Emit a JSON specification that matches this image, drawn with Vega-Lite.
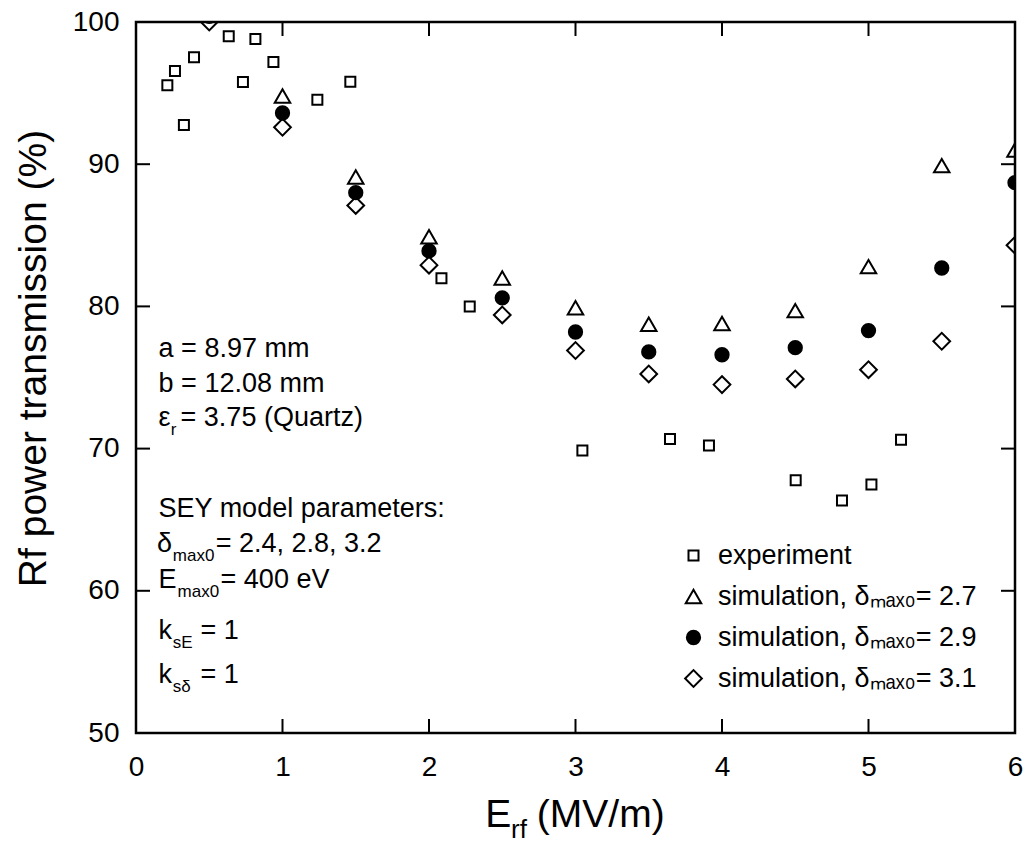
{
  "$schema": "https://vega.github.io/schema/vega-lite/v6.json",
  "width": 879,
  "height": 711,
  "autosize": {"type": "none"},
  "padding": {"left": 136, "top": 22, "right": 8, "bottom": 110},
  "background": "white",
  "config": {
    "view": {"stroke": "black", "strokeWidth": 2.5},
    "font": "Liberation Sans",
    "axis": {
      "labelFont": "Liberation Sans",
      "labelFontSize": 28,
      "labelColor": "black",
      "labelFlush": false,
      "labelOverlap": false,
      "titleFont": "Liberation Sans",
      "titleFontWeight": "normal",
      "titleColor": "black",
      "grid": false
    }
  },
  "datasets": {
    "points": [
      {"series": "experiment", "E": 0.214, "T": 95.55},
      {"series": "experiment", "E": 0.266, "T": 96.55},
      {"series": "experiment", "E": 0.327, "T": 92.76},
      {"series": "experiment", "E": 0.396, "T": 97.52},
      {"series": "experiment", "E": 0.633, "T": 98.99},
      {"series": "experiment", "E": 0.730, "T": 95.78},
      {"series": "experiment", "E": 0.815, "T": 98.80},
      {"series": "experiment", "E": 0.938, "T": 97.19},
      {"series": "experiment", "E": 1.238, "T": 94.54},
      {"series": "experiment", "E": 1.463, "T": 95.80},
      {"series": "experiment", "E": 2.085, "T": 81.98},
      {"series": "experiment", "E": 2.278, "T": 79.99},
      {"series": "experiment", "E": 3.047, "T": 69.87},
      {"series": "experiment", "E": 3.645, "T": 70.68},
      {"series": "experiment", "E": 3.911, "T": 70.22},
      {"series": "experiment", "E": 4.503, "T": 67.77},
      {"series": "experiment", "E": 4.819, "T": 66.35},
      {"series": "experiment", "E": 5.020, "T": 67.47},
      {"series": "experiment", "E": 5.222, "T": 70.63},
      {"series": "simulation, δₘₐₓ₀= 2.7", "E": 0.5, "T": 101.2},
      {"series": "simulation, δₘₐₓ₀= 2.7", "E": 1.0, "T": 94.8},
      {"series": "simulation, δₘₐₓ₀= 2.7", "E": 1.5, "T": 89.1},
      {"series": "simulation, δₘₐₓ₀= 2.7", "E": 2.0, "T": 84.9},
      {"series": "simulation, δₘₐₓ₀= 2.7", "E": 2.5, "T": 82.0},
      {"series": "simulation, δₘₐₓ₀= 2.7", "E": 3.0, "T": 79.9},
      {"series": "simulation, δₘₐₓ₀= 2.7", "E": 3.5, "T": 78.75},
      {"series": "simulation, δₘₐₓ₀= 2.7", "E": 4.0, "T": 78.8},
      {"series": "simulation, δₘₐₓ₀= 2.7", "E": 4.5, "T": 79.7},
      {"series": "simulation, δₘₐₓ₀= 2.7", "E": 5.0, "T": 82.8},
      {"series": "simulation, δₘₐₓ₀= 2.7", "E": 5.5, "T": 89.9},
      {"series": "simulation, δₘₐₓ₀= 2.7", "E": 6.0, "T": 91.0},
      {"series": "simulation, δₘₐₓ₀= 2.9", "E": 0.5, "T": 100.4},
      {"series": "simulation, δₘₐₓ₀= 2.9", "E": 1.0, "T": 93.6},
      {"series": "simulation, δₘₐₓ₀= 2.9", "E": 1.5, "T": 88.0},
      {"series": "simulation, δₘₐₓ₀= 2.9", "E": 2.0, "T": 83.9},
      {"series": "simulation, δₘₐₓ₀= 2.9", "E": 2.5, "T": 80.6},
      {"series": "simulation, δₘₐₓ₀= 2.9", "E": 3.0, "T": 78.2},
      {"series": "simulation, δₘₐₓ₀= 2.9", "E": 3.5, "T": 76.8},
      {"series": "simulation, δₘₐₓ₀= 2.9", "E": 4.0, "T": 76.6},
      {"series": "simulation, δₘₐₓ₀= 2.9", "E": 4.5, "T": 77.1},
      {"series": "simulation, δₘₐₓ₀= 2.9", "E": 5.0, "T": 78.3},
      {"series": "simulation, δₘₐₓ₀= 2.9", "E": 5.5, "T": 82.7},
      {"series": "simulation, δₘₐₓ₀= 2.9", "E": 6.0, "T": 88.7},
      {"series": "simulation, δₘₐₓ₀= 3.1", "E": 0.5, "T": 100.0},
      {"series": "simulation, δₘₐₓ₀= 3.1", "E": 1.0, "T": 92.6},
      {"series": "simulation, δₘₐₓ₀= 3.1", "E": 1.5, "T": 87.1},
      {"series": "simulation, δₘₐₓ₀= 3.1", "E": 2.0, "T": 82.9},
      {"series": "simulation, δₘₐₓ₀= 3.1", "E": 2.5, "T": 79.4},
      {"series": "simulation, δₘₐₓ₀= 3.1", "E": 3.0, "T": 76.9},
      {"series": "simulation, δₘₐₓ₀= 3.1", "E": 3.5, "T": 75.25},
      {"series": "simulation, δₘₐₓ₀= 3.1", "E": 4.0, "T": 74.5},
      {"series": "simulation, δₘₐₓ₀= 3.1", "E": 4.5, "T": 74.9},
      {"series": "simulation, δₘₐₓ₀= 3.1", "E": 5.0, "T": 75.55},
      {"series": "simulation, δₘₐₓ₀= 3.1", "E": 5.5, "T": 77.55},
      {"series": "simulation, δₘₐₓ₀= 3.1", "E": 6.0, "T": 84.3}
    ],
    "notes": [
      {"t": "a = 8.97 mm", "x": 0.1542, "y": 76.42, "k": "main"},
      {"t": "b = 12.08 mm", "x": 0.1542, "y": 74.0, "k": "main"},
      {"t": "ε", "x": 0.1542, "y": 71.59, "k": "main"},
      {"t": "r", "x": 0.237, "y": 71.59, "k": "sub"},
      {"t": "= 3.75 (Quartz)", "x": 0.3043, "y": 71.59, "k": "main"},
      {"t": "SEY model parameters:", "x": 0.1542, "y": 65.21, "k": "main"},
      {"t": "δ", "x": 0.1433, "y": 62.75, "k": "main"},
      {"t": "max0", "x": 0.251, "y": 62.75, "k": "sub"},
      {"t": "= 2.4, 2.8, 3.2", "x": 0.5443, "y": 62.75, "k": "main"},
      {"t": "E", "x": 0.1542, "y": 60.18, "k": "main"},
      {"t": "max0", "x": 0.284, "y": 60.18, "k": "sub"},
      {"t": "= 400 eV", "x": 0.5774, "y": 60.18, "k": "main"},
      {"t": "k", "x": 0.1542, "y": 56.58, "k": "main"},
      {"t": "sE", "x": 0.2507, "y": 56.58, "k": "sub"},
      {"t": "= 1", "x": 0.44, "y": 56.58, "k": "main"},
      {"t": "k", "x": 0.1542, "y": 53.51, "k": "main"},
      {"t": "sδ", "x": 0.2507, "y": 53.51, "k": "sub"},
      {"t": "= 1", "x": 0.44, "y": 53.51, "k": "main"}
    ],
    "xtitle": [
      {"t": "E", "x": 2.3834, "y": 43.41, "k": "main"},
      {"t": "rf", "x": 2.56, "y": 43.41, "k": "sub"},
      {"t": "(MV/m)", "x": 2.736, "y": 43.41, "k": "main"}
    ],
    "xticks": [
      {"v": 1, "edge": 50}, {"v": 2, "edge": 50}, {"v": 3, "edge": 50}, {"v": 4, "edge": 50}, {"v": 5, "edge": 50},
      {"v": 1, "edge": 100}, {"v": 2, "edge": 100}, {"v": 3, "edge": 100}, {"v": 4, "edge": 100}, {"v": 5, "edge": 100}
    ],
    "yticks": [
      {"v": 60, "edge": 0}, {"v": 70, "edge": 0}, {"v": 80, "edge": 0}, {"v": 90, "edge": 0},
      {"v": 60, "edge": 6}, {"v": 70, "edge": 6}, {"v": 80, "edge": 6}, {"v": 90, "edge": 6}
    ]
  },
  "layer": [
    {
      "data": {"name": "points"},
      "mark": {"type": "point", "filled": true, "stroke": "black", "strokeWidth": 2, "opacity": 1, "clip": true},
      "encoding": {
        "x": {
          "field": "E", "type": "quantitative",
          "scale": {"domain": [0, 6], "nice": false, "zero": false},
          "axis": {"orient": "bottom", "values": [0, 1, 2, 3, 4, 5, 6], "ticks": false, "tickSize": 0, "domain": false, "labelPadding": 20, "title": null, "format": "d"}
        },
        "y": {
          "field": "T", "type": "quantitative",
          "scale": {"domain": [50, 100], "nice": false, "zero": false},
          "axis": {"orient": "left", "values": [50, 60, 70, 80, 90, 100], "ticks": false, "tickSize": 0, "domain": false, "labelPadding": 17, "format": "d",
                   "title": "Rf power transmission (%)", "titleFontSize": 39, "titleX": -91, "titleY": 336, "titleAngle": 270, "titleBaseline": "alphabetic", "titleAlign": "center"}
        },
        "shape": {
          "field": "series", "type": "nominal",
          "scale": {"domain": ["experiment", "simulation, δₘₐₓ₀= 2.7", "simulation, δₘₐₓ₀= 2.9", "simulation, δₘₐₓ₀= 3.1"], "range": ["square", "triangle-up", "circle", "diamond"]},
          "legend": {"title": null, "orient": "none", "legendX": 544, "legendY": 520, "labelFontSize": 27, "labelFont": "Liberation Sans", "labelColor": "black", "rowPadding": 13, "labelOffset": 11, "symbolStrokeColor": "black", "symbolStrokeWidth": 2, "padding": 0, "labelLimit": 500}
        },
        "fill": {
          "field": "series", "type": "nominal",
          "scale": {"domain": ["experiment", "simulation, δₘₐₓ₀= 2.7", "simulation, δₘₐₓ₀= 2.9", "simulation, δₘₐₓ₀= 3.1"], "range": ["transparent", "transparent", "black", "transparent"]}
        },
        "size": {
          "field": "series", "type": "nominal",
          "scale": {"type": "ordinal", "domain": ["experiment", "simulation, δₘₐₓ₀= 2.7", "simulation, δₘₐₓ₀= 2.9", "simulation, δₘₐₓ₀= 3.1"], "range": [100, 240, 177, 280]}
        }
      }
    },
    {
      "data": {"name": "xticks"},
      "mark": {"type": "tick", "orient": "vertical", "size": 28, "thickness": 2, "color": "black", "opacity": 1, "clip": true},
      "encoding": {
        "x": {"field": "v", "type": "quantitative", "scale": {"domain": [0, 6], "nice": false, "zero": false},
              "axis": {"orient": "bottom", "values": [0, 1, 2, 3, 4, 5, 6], "ticks": false, "tickSize": 0, "domain": false, "labelPadding": 20, "title": null, "format": "d"}},
        "y": {"field": "edge", "type": "quantitative", "scale": {"domain": [50, 100], "nice": false, "zero": false},
              "axis": {"orient": "left", "values": [50, 60, 70, 80, 90, 100], "ticks": false, "tickSize": 0, "domain": false, "labelPadding": 17, "format": "d",
                       "title": "Rf power transmission (%)", "titleFontSize": 39, "titleX": -91, "titleY": 336, "titleAngle": 270, "titleBaseline": "alphabetic", "titleAlign": "center"}}
      }
    },
    {
      "data": {"name": "yticks"},
      "mark": {"type": "tick", "orient": "horizontal", "size": 28, "thickness": 2, "color": "black", "opacity": 1, "clip": true},
      "encoding": {
        "x": {"field": "edge", "type": "quantitative", "scale": {"domain": [0, 6], "nice": false, "zero": false},
              "axis": {"orient": "bottom", "values": [0, 1, 2, 3, 4, 5, 6], "ticks": false, "tickSize": 0, "domain": false, "labelPadding": 20, "title": null, "format": "d"}},
        "y": {"field": "v", "type": "quantitative", "scale": {"domain": [50, 100], "nice": false, "zero": false},
              "axis": {"orient": "left", "values": [50, 60, 70, 80, 90, 100], "ticks": false, "tickSize": 0, "domain": false, "labelPadding": 17, "format": "d",
                       "title": "Rf power transmission (%)", "titleFontSize": 39, "titleX": -91, "titleY": 336, "titleAngle": 270, "titleBaseline": "alphabetic", "titleAlign": "center"}}
      }
    },
    {
      "data": {"name": "notes"},
      "transform": [{"filter": "datum.k === 'main'"}],
      "mark": {"type": "text", "align": "left", "baseline": "alphabetic", "fontSize": 27, "font": "Liberation Sans", "color": "black"},
      "encoding": {
        "x": {"field": "x", "type": "quantitative", "scale": {"domain": [0, 6], "nice": false, "zero": false},
              "axis": {"orient": "bottom", "values": [0, 1, 2, 3, 4, 5, 6], "ticks": false, "tickSize": 0, "domain": false, "labelPadding": 20, "title": null, "format": "d"}},
        "y": {"field": "y", "type": "quantitative", "scale": {"domain": [50, 100], "nice": false, "zero": false},
              "axis": {"orient": "left", "values": [50, 60, 70, 80, 90, 100], "ticks": false, "tickSize": 0, "domain": false, "labelPadding": 17, "format": "d",
                       "title": "Rf power transmission (%)", "titleFontSize": 39, "titleX": -91, "titleY": 336, "titleAngle": 270, "titleBaseline": "alphabetic", "titleAlign": "center"}},
        "text": {"field": "t"}
      }
    },
    {
      "data": {"name": "notes"},
      "transform": [{"filter": "datum.k === 'sub'"}],
      "mark": {"type": "text", "align": "left", "baseline": "alphabetic", "fontSize": 17, "dy": 9, "font": "Liberation Sans", "color": "black"},
      "encoding": {
        "x": {"field": "x", "type": "quantitative", "scale": {"domain": [0, 6], "nice": false, "zero": false},
              "axis": {"orient": "bottom", "values": [0, 1, 2, 3, 4, 5, 6], "ticks": false, "tickSize": 0, "domain": false, "labelPadding": 20, "title": null, "format": "d"}},
        "y": {"field": "y", "type": "quantitative", "scale": {"domain": [50, 100], "nice": false, "zero": false},
              "axis": {"orient": "left", "values": [50, 60, 70, 80, 90, 100], "ticks": false, "tickSize": 0, "domain": false, "labelPadding": 17, "format": "d",
                       "title": "Rf power transmission (%)", "titleFontSize": 39, "titleX": -91, "titleY": 336, "titleAngle": 270, "titleBaseline": "alphabetic", "titleAlign": "center"}},
        "text": {"field": "t"}
      }
    },
    {
      "data": {"name": "xtitle"},
      "transform": [{"filter": "datum.k === 'main'"}],
      "mark": {"type": "text", "align": "left", "baseline": "alphabetic", "fontSize": 39, "font": "Liberation Sans", "color": "black"},
      "encoding": {
        "x": {"field": "x", "type": "quantitative", "scale": {"domain": [0, 6], "nice": false, "zero": false},
              "axis": {"orient": "bottom", "values": [0, 1, 2, 3, 4, 5, 6], "ticks": false, "tickSize": 0, "domain": false, "labelPadding": 20, "title": null, "format": "d"}},
        "y": {"field": "y", "type": "quantitative", "scale": {"domain": [50, 100], "nice": false, "zero": false},
              "axis": {"orient": "left", "values": [50, 60, 70, 80, 90, 100], "ticks": false, "tickSize": 0, "domain": false, "labelPadding": 17, "format": "d",
                       "title": "Rf power transmission (%)", "titleFontSize": 39, "titleX": -91, "titleY": 336, "titleAngle": 270, "titleBaseline": "alphabetic", "titleAlign": "center"}},
        "text": {"field": "t"}
      }
    },
    {
      "data": {"name": "xtitle"},
      "transform": [{"filter": "datum.k === 'sub'"}],
      "mark": {"type": "text", "align": "left", "baseline": "alphabetic", "fontSize": 26, "dy": 11, "font": "Liberation Sans", "color": "black"},
      "encoding": {
        "x": {"field": "x", "type": "quantitative", "scale": {"domain": [0, 6], "nice": false, "zero": false},
              "axis": {"orient": "bottom", "values": [0, 1, 2, 3, 4, 5, 6], "ticks": false, "tickSize": 0, "domain": false, "labelPadding": 20, "title": null, "format": "d"}},
        "y": {"field": "y", "type": "quantitative", "scale": {"domain": [50, 100], "nice": false, "zero": false},
              "axis": {"orient": "left", "values": [50, 60, 70, 80, 90, 100], "ticks": false, "tickSize": 0, "domain": false, "labelPadding": 17, "format": "d",
                       "title": "Rf power transmission (%)", "titleFontSize": 39, "titleX": -91, "titleY": 336, "titleAngle": 270, "titleBaseline": "alphabetic", "titleAlign": "center"}},
        "text": {"field": "t"}
      }
    }
  ]
}
